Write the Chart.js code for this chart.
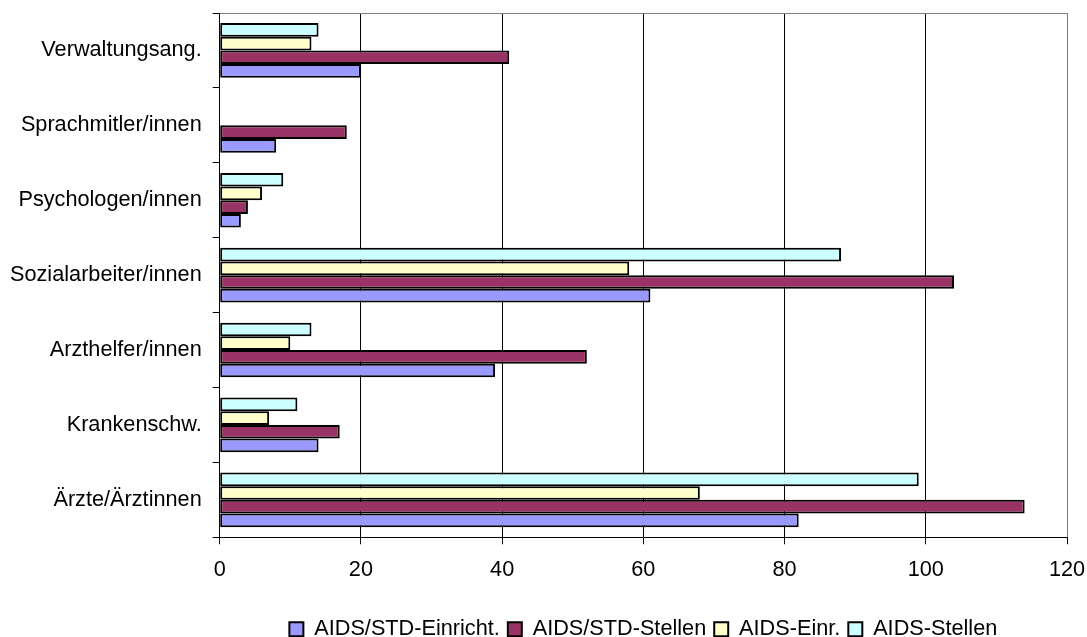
<!DOCTYPE html>
<html><head><meta charset="utf-8">
<script src="https://cdn.jsdelivr.net/npm/chart.js@4.4.0/dist/chart.umd.min.js"></script>
<style>html,body{margin:0;padding:0;background:#fff;} #wrap{width:1087px;height:637px;}</style>
</head><body><div id="wrap"><canvas id="c" width="1087" height="637"></canvas></div>
<script>
// categories listed top to bottom as shown in the chart
const categories = ['Verwaltungsang.', 'Sprachmitler/innen', 'Psychologen/innen', 'Sozialarbeiter/innen', 'Arzthelfer/innen', 'Krankenschw.', 'Ärzte/Ärztinnen'];
const aidsStdEinricht = [20, 8, 3, 61, 39, 14, 82];
const aidsStdStellen  = [41, 18, 4, 104, 52, 17, 114];
const aidsEinr        = [13, 0, 6, 58, 10, 7, 68];
const aidsStellen     = [14, 0, 9, 88, 13, 11, 99];
const xTickValues = [0, 20, 40, 60, 80, 100, 120];

const FONT = {family: "'Liberation Sans', Arial, sans-serif", size: 21.7};

const topBorder = {
  id: 'topBorder',
  beforeDatasetsDraw(chart) {
    const {ctx, chartArea: a} = chart;
    ctx.save();
    ctx.strokeStyle = '#808080';
    ctx.lineWidth = 1;
    ctx.beginPath();
    ctx.moveTo(a.left, Math.round(a.top) + 0.5);
    ctx.lineTo(a.right, Math.round(a.top) + 0.5);
    ctx.stroke();
    ctx.restore();
  }
};

// datasets listed in reverse so that the first series sits at the bottom of each group;
// the legend is reversed back to the original order
const datasets = [
  {label: 'AIDS-Stellen', data: aidsStellen, backgroundColor: '#CCFFFF'},
  {label: 'AIDS-Einr.', data: aidsEinr, backgroundColor: '#FFFFCC'},
  {label: 'AIDS/STD-Stellen', data: aidsStdStellen, backgroundColor: '#993366'},
  {label: 'AIDS/STD-Einricht.', data: aidsStdEinricht, backgroundColor: '#9999FF'}
].map(d => Object.assign(d, {borderColor: '#000', borderWidth: 2, borderSkipped: false, barPercentage: 1.0, categoryPercentage: 0.73}));

new Chart(document.getElementById('c'), {
  type: 'bar',
  data: {labels: categories, datasets},
  options: {
    indexAxis: 'y',
    responsive: false,
    devicePixelRatio: 1,
    animation: false,
    layout: {padding: {left: -1, right: 20, top: 13, bottom: -13}},
    plugins: {
      legend: {
        position: 'bottom',
        fullSize: false,
        reverse: true,
        labels: {boxWidth: 14, boxHeight: 14, padding: 8, color: '#000', font: FONT}
      },
      tooltip: {enabled: false},
      title: {display: false}
    },
    scales: {
      x: {
        min: 0, max: 120,
        afterBuildTicks(scale) { scale.ticks = xTickValues.map(v => ({value: v})); },
        afterFit(scale) { scale.height += 14; scale.paddingLeft = 0; scale.paddingRight = 0; },
        ticks: {color: '#000', font: FONT, padding: 13},
        grid: {
          color: c => (c.tick && c.tick.value === 120) ? '#808080' : '#000',
          tickColor: '#000', tickLength: 7, lineWidth: 1
        },
        border: {display: true, color: '#000', width: 1}
      },
      y: {
        afterFit(scale) { scale.paddingTop = 0; scale.paddingBottom = 0; },
        ticks: {color: '#000', font: FONT, padding: 11},
        grid: {drawOnChartArea: false, drawTicks: true, tickLength: 7, color: '#000', offset: true},
        border: {display: true, color: '#000', width: 1}
      }
    }
  },
  plugins: [topBorder]
});
</script></body></html>
